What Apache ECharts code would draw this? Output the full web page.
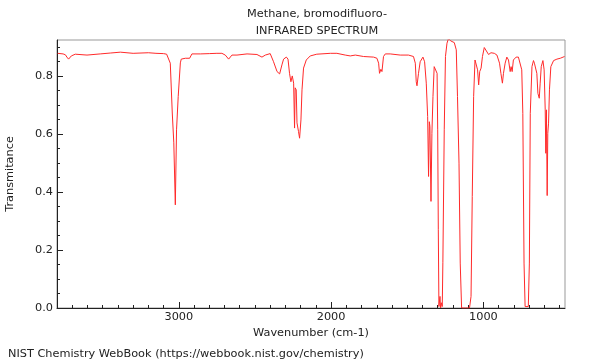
<!DOCTYPE html>
<html>
<head>
<meta charset="utf-8">
<script src="https://cdn.jsdelivr.net/npm/echarts@6/dist/echarts.min.js"></script>
<style>html,body{margin:0;padding:0;background:#fff}#c{width:600px;height:360px}</style>
</head>
<body>
<div id="c"></div>
<script>
const titleLines = ["Methane, bromodifluoro-", "INFRARED SPECTRUM"];
const xName = "Wavenumber (cm-1)";
const yName = "Transmitance";
const footer = "NIST Chemistry WebBook (https://webbook.nist.gov/chemistry)";
const xMajorTicks = [1000, 2000, 3000];
const xMinorTicks = [500,600,700,800,900,1100,1200,1300,1400,1500,1600,1700,1800,1900,2100,2200,2300,2400,2500,2600,2700,2800,2900,3100,3200,3300,3400,3500,3600,3700];
const yMajorTicks = [0, 0.2, 0.4, 0.6, 0.8];
const yMinorTicks = [0.05,0.1,0.15,0.25,0.3,0.35,0.45,0.5,0.55,0.65,0.7,0.75,0.85,0.9];

const wavenumber = [3796,3760,3745,3735,3724,3706,3680,3603,3516,3450,3384,3300,3200,3150,3100,3080,3067,3056,3043,3033,3023,3015,3004,2990,2984,2957,2929,2914,2859,2800,2750,2717,2695,2673,2651,2618,2552,2487,2454,2432,2400,2378,2355,2338,2323,2312,2294,2283,2273,2264,2255,2246,2240,2236,2233,2229,2224,2214,2207,2198,2191,2181,2163,2137,2094,2005,1962,1907,1896,1874,1841,1787,1721,1699,1688,1682,1673,1666,1656,1644,1612,1546,1492,1459,1447,1441,1436,1426,1415,1397,1386,1375,1366,1360,1355,1351,1344,1338,1331,1323,1314,1304,1300,1296,1292,1285,1281,1275,1270,1266,1257,1249,1239,1229,1215,1207,1191,1178,1170,1160,1152,1143,1119,1091,1081,1073,1064,1055,1046,1038,1031,1024,1015,1006,994,981,966,950,928,911,894,885,875,868,857,846,835,824,818,811,803,785,770,759,748,741,733,726,715,705,698,692,681,671,665,655,649,642,633,627,620,609,601,594,590,586,581,577,572,566,557,539,517,495,467];
const transmittance = [0.879,0.877,0.874,0.866,0.859,0.870,0.876,0.873,0.877,0.880,0.883,0.879,0.881,0.879,0.878,0.876,0.872,0.845,0.673,0.570,0.356,0.615,0.730,0.846,0.859,0.862,0.862,0.877,0.877,0.878,0.879,0.879,0.873,0.859,0.873,0.873,0.877,0.875,0.866,0.873,0.878,0.850,0.816,0.808,0.839,0.859,0.866,0.859,0.810,0.781,0.801,0.776,0.621,0.760,0.759,0.753,0.639,0.609,0.586,0.649,0.753,0.828,0.856,0.870,0.876,0.879,0.879,0.873,0.877,0.870,0.873,0.868,0.866,0.862,0.845,0.810,0.824,0.816,0.868,0.877,0.877,0.873,0.873,0.868,0.845,0.781,0.767,0.810,0.850,0.866,0.850,0.776,0.661,0.454,0.643,0.626,0.368,0.603,0.730,0.833,0.839,0.810,0.615,0.270,0.005,0.040,0.000,0.018,0.005,0.156,0.615,0.868,0.914,0.930,0.922,0.919,0.916,0.891,0.730,0.500,0.155,0.000,0.000,0.000,0.040,0.385,0.730,0.856,0.850,0.822,0.770,0.816,0.828,0.868,0.899,0.898,0.875,0.881,0.879,0.873,0.845,0.810,0.776,0.810,0.845,0.866,0.856,0.816,0.833,0.816,0.856,0.866,0.866,0.868,0.822,0.672,0.155,0.005,0.005,0.005,0.155,0.672,0.833,0.854,0.845,0.850,0.810,0.741,0.724,0.776,0.833,0.854,0.822,0.684,0.534,0.684,0.388,0.603,0.638,0.753,0.833,0.854,0.859,0.862,0.868];

const X_MIN = 464, X_MAX = 3800, Y_MIN = 0, Y_MAX = 0.925;
const FONT = "DejaVu Sans";
const FS = 11.3;
const TXT = "#222";

const data = wavenumber.map((w, i) => [w, transmittance[i]]);

const chart = echarts.init(document.getElementById('c'), null, {renderer: 'canvas'});
const baseX = {type: 'value', min: X_MIN, max: X_MAX, inverse: true, position: 'bottom', splitLine: {show: false}};
const baseY = {type: 'value', min: Y_MIN, max: Y_MAX, position: 'left', splitLine: {show: false}};
const ts = {fontSize: FS, fontWeight: 'normal', color: TXT, fontFamily: FONT};
chart.setOption({
  animation: false,
  textStyle: {fontFamily: FONT},
  title: [
    {text: titleLines[0], left: 312, top: 4, textAlign: 'center', textStyle: ts},
    {text: titleLines[1], left: 312, top: 21, textAlign: 'center', textStyle: ts},
    {text: footer, left: 3, top: 344, textStyle: ts}
  ],
  grid: {left: 57, right: 35, top: 40, bottom: 52, show: true, borderColor: '#999', borderWidth: 1, outerBoundsMode: 'none'},
  xAxis: [
    Object.assign({}, baseX, {
      name: xName, nameLocation: 'middle', nameGap: 18,
      nameTextStyle: {fontSize: FS, color: TXT, fontFamily: FONT},
      axisLine: {show: true, lineStyle: {color: '#222', width: 1}},
      axisTick: {show: true, inside: true, length: 6, customValues: xMajorTicks, lineStyle: {color: '#222'}},
      axisLabel: {show: true, customValues: xMajorTicks, margin: 4, fontSize: FS, color: TXT, fontFamily: FONT,
        formatter: v => String(Math.round(v))}
    }),
    Object.assign({}, baseX, {
      axisLine: {show: false},
      axisTick: {show: true, inside: true, length: 3, customValues: xMinorTicks, lineStyle: {color: '#222'}},
      axisLabel: {show: false}
    })
  ],
  yAxis: [
    Object.assign({}, baseY, {
      name: yName, nameLocation: 'middle', nameGap: 41,
      nameTextStyle: {fontSize: FS, color: TXT, fontFamily: FONT},
      axisLine: {show: true, lineStyle: {color: '#222', width: 1}},
      axisTick: {show: true, inside: true, length: 6, customValues: yMajorTicks, lineStyle: {color: '#222'}},
      axisLabel: {show: true, customValues: yMajorTicks, margin: 4, fontSize: FS, color: TXT, fontFamily: FONT,
        formatter: v => Number(v).toFixed(1)}
    }),
    Object.assign({}, baseY, {
      axisLine: {show: false},
      axisTick: {show: true, inside: true, length: 3, customValues: yMinorTicks, lineStyle: {color: '#222'}},
      axisLabel: {show: false}
    })
  ],
  series: [{
    type: 'line', xAxisIndex: 0, yAxisIndex: 0, data: data,
    showSymbol: false, symbol: 'none', clip: true,
    lineStyle: {color: '#ff2a2a', width: 1}
  }]
});
</script>
</body>
</html>
